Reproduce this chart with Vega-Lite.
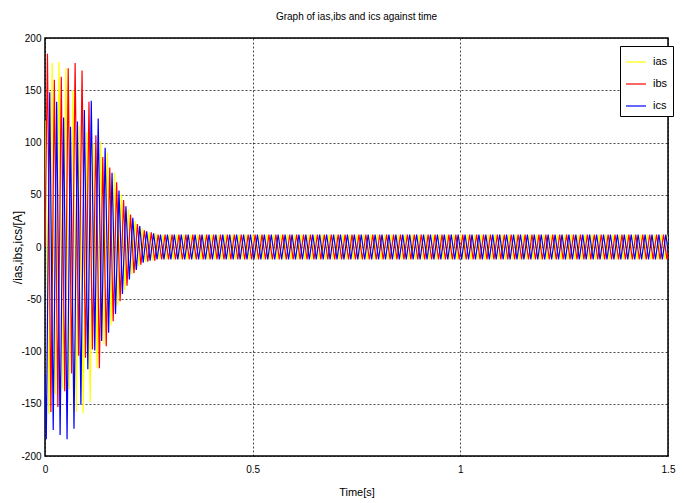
{
"$schema": "https://vega.github.io/schema/vega-lite/v6.json",
"width": 623, "height": 418,
"autosize": "none",
"padding": {"left": 45, "top": 38, "right": 16, "bottom": 47},
"background": "white",
"title": {"text": "Graph of ias,ibs and ics against time", "fontSize": 10, "font": "Liberation Sans Narrow, Arial Narrow, Liberation Sans, sans-serif", "fontWeight": "normal", "color": "black", "offset": 11, "anchor": "middle"},
"datasets": {
"ias": [{"t":0,"v":121},
{"t":0.0087,"v":-160},{"t":0.017,"v":176},{"t":0.0253,"v":-141},{"t":0.0337,"v":177},{"t":0.042,"v":-136},{"t":0.0503,"v":171},{"t":0.0587,"v":-136},{"t":0.067,"v":150},{"t":0.0753,"v":-158},{"t":0.0837,"v":116},{"t":0.092,"v":-159},{"t":0.1003,"v":110},
{"t":0.1087,"v":-148},{"t":0.117,"v":99},{"t":0.1253,"v":-116},{"t":0.1337,"v":101},{"t":0.142,"v":-93},{"t":0.1503,"v":90},{"t":0.1587,"v":-75},{"t":0.167,"v":71},{"t":0.1753,"v":-56},{"t":0.1837,"v":51},{"t":0.192,"v":-41},{"t":0.2003,"v":36},
{"t":0.2087,"v":-26},{"t":0.217,"v":25},{"t":0.2253,"v":-18},{"t":0.2337,"v":18},{"t":0.242,"v":-14},{"t":0.2503,"v":14},{"t":0.2587,"v":-13},{"t":0.267,"v":13},{"t":0.2753,"v":-12},{"t":0.2837,"v":12},{"t":0.292,"v":-12},{"t":0.3003,"v":12},
{"t":0.3087,"v":-12},{"t":0.317,"v":12},{"t":0.3253,"v":-12},{"t":0.3337,"v":12},{"t":0.342,"v":-12},{"t":0.3503,"v":12},{"t":0.3587,"v":-12},{"t":0.367,"v":12},{"t":0.3753,"v":-12},{"t":0.3837,"v":12},{"t":0.392,"v":-12},{"t":0.4003,"v":12},
{"t":0.4087,"v":-12},{"t":0.417,"v":12},{"t":0.4253,"v":-12},{"t":0.4337,"v":12},{"t":0.442,"v":-12},{"t":0.4503,"v":12},{"t":0.4587,"v":-12},{"t":0.467,"v":12},{"t":0.4753,"v":-12},{"t":0.4837,"v":12},{"t":0.492,"v":-12},{"t":0.5003,"v":12},
{"t":0.5087,"v":-12},{"t":0.517,"v":12},{"t":0.5253,"v":-12},{"t":0.5337,"v":12},{"t":0.542,"v":-12},{"t":0.5503,"v":12},{"t":0.5587,"v":-12},{"t":0.567,"v":12},{"t":0.5753,"v":-12},{"t":0.5837,"v":12},{"t":0.592,"v":-12},{"t":0.6003,"v":12},
{"t":0.6087,"v":-12},{"t":0.617,"v":12},{"t":0.6253,"v":-12},{"t":0.6337,"v":12},{"t":0.642,"v":-12},{"t":0.6503,"v":12},{"t":0.6587,"v":-12},{"t":0.667,"v":12},{"t":0.6753,"v":-12},{"t":0.6837,"v":12},{"t":0.692,"v":-12},{"t":0.7003,"v":12},
{"t":0.7087,"v":-12},{"t":0.717,"v":12},{"t":0.7253,"v":-12},{"t":0.7337,"v":12},{"t":0.742,"v":-12},{"t":0.7503,"v":12},{"t":0.7587,"v":-12},{"t":0.767,"v":12},{"t":0.7753,"v":-12},{"t":0.7837,"v":12},{"t":0.792,"v":-12},{"t":0.8003,"v":12},
{"t":0.8087,"v":-12},{"t":0.817,"v":12},{"t":0.8253,"v":-12},{"t":0.8337,"v":12},{"t":0.842,"v":-12},{"t":0.8503,"v":12},{"t":0.8587,"v":-12},{"t":0.867,"v":12},{"t":0.8753,"v":-12},{"t":0.8837,"v":12},{"t":0.892,"v":-12},{"t":0.9003,"v":12},
{"t":0.9087,"v":-12},{"t":0.917,"v":12},{"t":0.9253,"v":-12},{"t":0.9337,"v":12},{"t":0.942,"v":-12},{"t":0.9503,"v":12},{"t":0.9587,"v":-12},{"t":0.967,"v":12},{"t":0.9753,"v":-12},{"t":0.9837,"v":12},{"t":0.992,"v":-12},{"t":1.0003,"v":12},
{"t":1.0087,"v":-12},{"t":1.017,"v":12},{"t":1.0253,"v":-12},{"t":1.0337,"v":12},{"t":1.042,"v":-12},{"t":1.0503,"v":12},{"t":1.0587,"v":-12},{"t":1.067,"v":12},{"t":1.0753,"v":-12},{"t":1.0837,"v":12},{"t":1.092,"v":-12},{"t":1.1003,"v":12},
{"t":1.1087,"v":-12},{"t":1.117,"v":12},{"t":1.1253,"v":-12},{"t":1.1337,"v":12},{"t":1.142,"v":-12},{"t":1.1503,"v":12},{"t":1.1587,"v":-12},{"t":1.167,"v":12},{"t":1.1753,"v":-12},{"t":1.1837,"v":12},{"t":1.192,"v":-12},{"t":1.2003,"v":12},
{"t":1.2087,"v":-12},{"t":1.217,"v":12},{"t":1.2253,"v":-12},{"t":1.2337,"v":12},{"t":1.242,"v":-12},{"t":1.2503,"v":12},{"t":1.2587,"v":-12},{"t":1.267,"v":12},{"t":1.2753,"v":-12},{"t":1.2837,"v":12},{"t":1.292,"v":-12},{"t":1.3003,"v":12},
{"t":1.3087,"v":-12},{"t":1.317,"v":12},{"t":1.3253,"v":-12},{"t":1.3337,"v":12},{"t":1.342,"v":-12},{"t":1.3503,"v":12},{"t":1.3587,"v":-12},{"t":1.367,"v":12},{"t":1.3753,"v":-12},{"t":1.3837,"v":12},{"t":1.392,"v":-12},{"t":1.4003,"v":12},
{"t":1.4087,"v":-12},{"t":1.417,"v":12},{"t":1.4253,"v":-12},{"t":1.4337,"v":12},{"t":1.442,"v":-12},{"t":1.4503,"v":12},{"t":1.4587,"v":-12},{"t":1.467,"v":12},{"t":1.4753,"v":-12},{"t":1.4837,"v":12},{"t":1.492,"v":-12},{"t":1.5003,"v":12}],
"ibs": [{"t":0,"v":0},
{"t":0.0059,"v":185},{"t":0.0142,"v":-158},{"t":0.0225,"v":160},{"t":0.0309,"v":-153},{"t":0.0392,"v":163},{"t":0.0475,"v":-138},{"t":0.0559,"v":171},{"t":0.0642,"v":-121},{"t":0.0725,"v":176},{"t":0.0809,"v":-104},{"t":0.0892,"v":169},{"t":0.0975,"v":-106},
{"t":0.1059,"v":139},{"t":0.1142,"v":-98},{"t":0.1225,"v":107},{"t":0.1309,"v":-116},{"t":0.1392,"v":86},{"t":0.1475,"v":-95},{"t":0.1559,"v":76},{"t":0.1642,"v":-71},{"t":0.1725,"v":62},{"t":0.1809,"v":-52},{"t":0.1892,"v":45},{"t":0.1975,"v":-37},
{"t":0.2059,"v":31},{"t":0.2142,"v":-25},{"t":0.2225,"v":22},{"t":0.2309,"v":-17},{"t":0.2392,"v":16},{"t":0.2475,"v":-14},{"t":0.2559,"v":14},{"t":0.2642,"v":-13},{"t":0.2725,"v":12},{"t":0.2809,"v":-12},{"t":0.2892,"v":12},{"t":0.2975,"v":-12},
{"t":0.3059,"v":12},{"t":0.3142,"v":-12},{"t":0.3225,"v":12},{"t":0.3309,"v":-12},{"t":0.3392,"v":12},{"t":0.3475,"v":-12},{"t":0.3559,"v":12},{"t":0.3642,"v":-12},{"t":0.3725,"v":12},{"t":0.3809,"v":-12},{"t":0.3892,"v":12},{"t":0.3975,"v":-12},
{"t":0.4059,"v":12},{"t":0.4142,"v":-12},{"t":0.4225,"v":12},{"t":0.4309,"v":-12},{"t":0.4392,"v":12},{"t":0.4475,"v":-12},{"t":0.4559,"v":12},{"t":0.4642,"v":-12},{"t":0.4725,"v":12},{"t":0.4809,"v":-12},{"t":0.4892,"v":12},{"t":0.4975,"v":-12},
{"t":0.5059,"v":12},{"t":0.5142,"v":-12},{"t":0.5225,"v":12},{"t":0.5309,"v":-12},{"t":0.5392,"v":12},{"t":0.5475,"v":-12},{"t":0.5559,"v":12},{"t":0.5642,"v":-12},{"t":0.5725,"v":12},{"t":0.5809,"v":-12},{"t":0.5892,"v":12},{"t":0.5975,"v":-12},
{"t":0.6059,"v":12},{"t":0.6142,"v":-12},{"t":0.6225,"v":12},{"t":0.6309,"v":-12},{"t":0.6392,"v":12},{"t":0.6475,"v":-12},{"t":0.6559,"v":12},{"t":0.6642,"v":-12},{"t":0.6725,"v":12},{"t":0.6809,"v":-12},{"t":0.6892,"v":12},{"t":0.6975,"v":-12},
{"t":0.7059,"v":12},{"t":0.7142,"v":-12},{"t":0.7225,"v":12},{"t":0.7309,"v":-12},{"t":0.7392,"v":12},{"t":0.7475,"v":-12},{"t":0.7559,"v":12},{"t":0.7642,"v":-12},{"t":0.7725,"v":12},{"t":0.7809,"v":-12},{"t":0.7892,"v":12},{"t":0.7975,"v":-12},
{"t":0.8059,"v":12},{"t":0.8142,"v":-12},{"t":0.8225,"v":12},{"t":0.8309,"v":-12},{"t":0.8392,"v":12},{"t":0.8475,"v":-12},{"t":0.8559,"v":12},{"t":0.8642,"v":-12},{"t":0.8725,"v":12},{"t":0.8809,"v":-12},{"t":0.8892,"v":12},{"t":0.8975,"v":-12},
{"t":0.9059,"v":12},{"t":0.9142,"v":-12},{"t":0.9225,"v":12},{"t":0.9309,"v":-12},{"t":0.9392,"v":12},{"t":0.9475,"v":-12},{"t":0.9559,"v":12},{"t":0.9642,"v":-12},{"t":0.9725,"v":12},{"t":0.9809,"v":-12},{"t":0.9892,"v":12},{"t":0.9975,"v":-12},
{"t":1.0059,"v":12},{"t":1.0142,"v":-12},{"t":1.0225,"v":12},{"t":1.0309,"v":-12},{"t":1.0392,"v":12},{"t":1.0475,"v":-12},{"t":1.0559,"v":12},{"t":1.0642,"v":-12},{"t":1.0725,"v":12},{"t":1.0809,"v":-12},{"t":1.0892,"v":12},{"t":1.0975,"v":-12},
{"t":1.1059,"v":12},{"t":1.1142,"v":-12},{"t":1.1225,"v":12},{"t":1.1309,"v":-12},{"t":1.1392,"v":12},{"t":1.1475,"v":-12},{"t":1.1559,"v":12},{"t":1.1642,"v":-12},{"t":1.1725,"v":12},{"t":1.1809,"v":-12},{"t":1.1892,"v":12},{"t":1.1975,"v":-12},
{"t":1.2059,"v":12},{"t":1.2142,"v":-12},{"t":1.2225,"v":12},{"t":1.2309,"v":-12},{"t":1.2392,"v":12},{"t":1.2475,"v":-12},{"t":1.2559,"v":12},{"t":1.2642,"v":-12},{"t":1.2725,"v":12},{"t":1.2809,"v":-12},{"t":1.2892,"v":12},{"t":1.2975,"v":-12},
{"t":1.3059,"v":12},{"t":1.3142,"v":-12},{"t":1.3225,"v":12},{"t":1.3309,"v":-12},{"t":1.3392,"v":12},{"t":1.3475,"v":-12},{"t":1.3559,"v":12},{"t":1.3642,"v":-12},{"t":1.3725,"v":12},{"t":1.3809,"v":-12},{"t":1.3892,"v":12},{"t":1.3975,"v":-12},
{"t":1.4059,"v":12},{"t":1.4142,"v":-12},{"t":1.4225,"v":12},{"t":1.4309,"v":-12},{"t":1.4392,"v":12},{"t":1.4475,"v":-12},{"t":1.4559,"v":12},{"t":1.4642,"v":-12},{"t":1.4725,"v":12},{"t":1.4809,"v":-12},{"t":1.4892,"v":12},{"t":1.4975,"v":-12},
{"t":1.5059,"v":12}],
"ics": [{"t":0,"v":-121},
{"t":0.0031,"v":-184},{"t":0.0114,"v":148},{"t":0.0198,"v":-175},{"t":0.0281,"v":139},{"t":0.0364,"v":-180},{"t":0.0448,"v":124},{"t":0.0531,"v":-184},{"t":0.0614,"v":115},{"t":0.0698,"v":-174},{"t":0.0781,"v":120},{"t":0.0864,"v":-151},{"t":0.0948,"v":131},
{"t":0.1031,"v":-117},{"t":0.1114,"v":140},{"t":0.1198,"v":-99},{"t":0.1281,"v":123},{"t":0.1364,"v":-90},{"t":0.1448,"v":95},{"t":0.1531,"v":-82},{"t":0.1614,"v":71},{"t":0.1698,"v":-64},{"t":0.1781,"v":54},{"t":0.1864,"v":-45},{"t":0.1948,"v":39},
{"t":0.2031,"v":-31},{"t":0.2114,"v":28},{"t":0.2198,"v":-22},{"t":0.2281,"v":20},{"t":0.2364,"v":-15},{"t":0.2448,"v":15},{"t":0.2531,"v":-13},{"t":0.2614,"v":13},{"t":0.2698,"v":-12},{"t":0.2781,"v":12},{"t":0.2864,"v":-12},{"t":0.2948,"v":12},
{"t":0.3031,"v":-12},{"t":0.3114,"v":12},{"t":0.3198,"v":-12},{"t":0.3281,"v":12},{"t":0.3364,"v":-12},{"t":0.3448,"v":12},{"t":0.3531,"v":-12},{"t":0.3614,"v":12},{"t":0.3698,"v":-12},{"t":0.3781,"v":12},{"t":0.3864,"v":-12},{"t":0.3948,"v":12},
{"t":0.4031,"v":-12},{"t":0.4114,"v":12},{"t":0.4198,"v":-12},{"t":0.4281,"v":12},{"t":0.4364,"v":-12},{"t":0.4448,"v":12},{"t":0.4531,"v":-12},{"t":0.4614,"v":12},{"t":0.4698,"v":-12},{"t":0.4781,"v":12},{"t":0.4864,"v":-12},{"t":0.4948,"v":12},
{"t":0.5031,"v":-12},{"t":0.5114,"v":12},{"t":0.5198,"v":-12},{"t":0.5281,"v":12},{"t":0.5364,"v":-12},{"t":0.5448,"v":12},{"t":0.5531,"v":-12},{"t":0.5614,"v":12},{"t":0.5698,"v":-12},{"t":0.5781,"v":12},{"t":0.5864,"v":-12},{"t":0.5948,"v":12},
{"t":0.6031,"v":-12},{"t":0.6114,"v":12},{"t":0.6198,"v":-12},{"t":0.6281,"v":12},{"t":0.6364,"v":-12},{"t":0.6448,"v":12},{"t":0.6531,"v":-12},{"t":0.6614,"v":12},{"t":0.6698,"v":-12},{"t":0.6781,"v":12},{"t":0.6864,"v":-12},{"t":0.6948,"v":12},
{"t":0.7031,"v":-12},{"t":0.7114,"v":12},{"t":0.7198,"v":-12},{"t":0.7281,"v":12},{"t":0.7364,"v":-12},{"t":0.7448,"v":12},{"t":0.7531,"v":-12},{"t":0.7614,"v":12},{"t":0.7698,"v":-12},{"t":0.7781,"v":12},{"t":0.7864,"v":-12},{"t":0.7948,"v":12},
{"t":0.8031,"v":-12},{"t":0.8114,"v":12},{"t":0.8198,"v":-12},{"t":0.8281,"v":12},{"t":0.8364,"v":-12},{"t":0.8448,"v":12},{"t":0.8531,"v":-12},{"t":0.8614,"v":12},{"t":0.8698,"v":-12},{"t":0.8781,"v":12},{"t":0.8864,"v":-12},{"t":0.8948,"v":12},
{"t":0.9031,"v":-12},{"t":0.9114,"v":12},{"t":0.9198,"v":-12},{"t":0.9281,"v":12},{"t":0.9364,"v":-12},{"t":0.9448,"v":12},{"t":0.9531,"v":-12},{"t":0.9614,"v":12},{"t":0.9698,"v":-12},{"t":0.9781,"v":12},{"t":0.9864,"v":-12},{"t":0.9948,"v":12},
{"t":1.0031,"v":-12},{"t":1.0114,"v":12},{"t":1.0198,"v":-12},{"t":1.0281,"v":12},{"t":1.0364,"v":-12},{"t":1.0448,"v":12},{"t":1.0531,"v":-12},{"t":1.0614,"v":12},{"t":1.0698,"v":-12},{"t":1.0781,"v":12},{"t":1.0864,"v":-12},{"t":1.0948,"v":12},
{"t":1.1031,"v":-12},{"t":1.1114,"v":12},{"t":1.1198,"v":-12},{"t":1.1281,"v":12},{"t":1.1364,"v":-12},{"t":1.1448,"v":12},{"t":1.1531,"v":-12},{"t":1.1614,"v":12},{"t":1.1698,"v":-12},{"t":1.1781,"v":12},{"t":1.1864,"v":-12},{"t":1.1948,"v":12},
{"t":1.2031,"v":-12},{"t":1.2114,"v":12},{"t":1.2198,"v":-12},{"t":1.2281,"v":12},{"t":1.2364,"v":-12},{"t":1.2448,"v":12},{"t":1.2531,"v":-12},{"t":1.2614,"v":12},{"t":1.2698,"v":-12},{"t":1.2781,"v":12},{"t":1.2864,"v":-12},{"t":1.2948,"v":12},
{"t":1.3031,"v":-12},{"t":1.3114,"v":12},{"t":1.3198,"v":-12},{"t":1.3281,"v":12},{"t":1.3364,"v":-12},{"t":1.3448,"v":12},{"t":1.3531,"v":-12},{"t":1.3614,"v":12},{"t":1.3698,"v":-12},{"t":1.3781,"v":12},{"t":1.3864,"v":-12},{"t":1.3948,"v":12},
{"t":1.4031,"v":-12},{"t":1.4114,"v":12},{"t":1.4198,"v":-12},{"t":1.4281,"v":12},{"t":1.4364,"v":-12},{"t":1.4448,"v":12},{"t":1.4531,"v":-12},{"t":1.4614,"v":12},{"t":1.4698,"v":-12},{"t":1.4781,"v":12},{"t":1.4864,"v":-12},{"t":1.4948,"v":12},
{"t":1.5031,"v":-12}]
},
"encoding": {
 "x": {"field": "t", "type": "quantitative", "title": "Time[s]",
  "scale": {"domain": [0, 1.5], "nice": false, "zero": false},
  "axis": {"values": [0, 0.5, 1, 1.5], "format": "~g", "labelFlush": false, "labelPadding": 8, "titlePadding": 12}},
 "y": {"field": "v", "type": "quantitative", "title": "/ias,ibs,ics/[A]",
  "scale": {"domain": [-200, 200], "nice": false},
  "axis": {"values": [-200, -150, -100, -50, 0, 50, 100, 150, 200], "labelExpr": "replace(datum.label, '\u2212', '-')", "labelPadding": 4, "titleX": -28, "titleY": 209, "titleAngle": 270, "titleAlign": "center", "titleBaseline": "middle", "titleFont": "Liberation Sans, sans-serif", "titleFontSize": 12}}
},
"layer": [
 {"data": {"name": "ias"}, "mark": {"type": "line", "clip": true, "strokeWidth": 1.2},
  "encoding": {"color": {"datum": "ias", "type": "nominal",
   "scale": {"domain": ["ias", "ibs", "ics"], "range": ["#FFFF00", "#FF0000", "#0000FF"]},
   "legend": {"title": null, "orient": "none", "legendX": 575, "legendY": 8, "symbolType": "stroke", "symbolSize": 400, "symbolStrokeWidth": 1.2, "padding": 5, "rowPadding": 6, "labelOffset": 6, "labelFontSize": 11, "labelFont": "Liberation Sans Narrow, Arial Narrow, Liberation Sans, sans-serif", "labelColor": "black", "fillColor": "white", "strokeColor": "black"}}}},
 {"data": {"name": "ibs"}, "mark": {"type": "line", "clip": true, "strokeWidth": 1.2},
  "encoding": {"color": {"datum": "ibs", "type": "nominal"}}},
 {"data": {"name": "ics"}, "mark": {"type": "line", "clip": true, "strokeWidth": 1.2},
  "encoding": {"color": {"datum": "ics", "type": "nominal"}}}
],
"config": {
 "view": {"stroke": "black", "strokeWidth": 1.5},
 "axis": {"grid": true, "gridColor": "#000000", "gridDash": [2, 2], "gridOpacity": 0.7, "gridWidth": 1, "ticks": false, "domain": false,
  "labelFont": "Liberation Sans Narrow, Arial Narrow, Liberation Sans, sans-serif", "labelFontSize": 10, "labelColor": "black", "labelOverlap": false,
  "titleFont": "Liberation Sans Narrow, Arial Narrow, Liberation Sans, sans-serif", "titleFontSize": 11, "titleFontWeight": "normal", "titleColor": "black"}
}
}
